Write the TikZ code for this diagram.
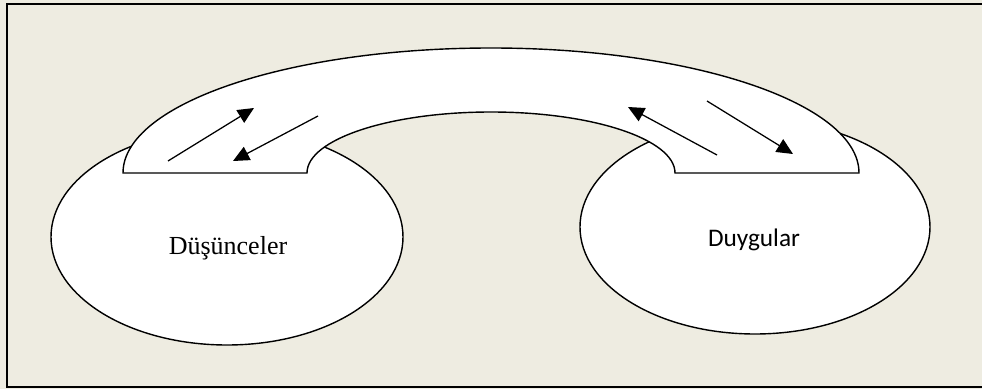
\documentclass[tikz,border=0pt]{standalone}
\usepackage{fontspec}
\setmainfont{Liberation Serif}
\newfontfamily\calibri{Carlito}
\usetikzlibrary{arrows.meta}
\definecolor{zemin}{RGB}{238,236,225}

\begin{document}
\begin{tikzpicture}[x=0.025cm, y=0.025cm, line width=1pt,
    ok/.style={-{Triangle[length=11.5pt, width=10.5pt]}, line width=0.9pt}]
        % Zemin ve çerçeve
        \useasboundingbox (0,0) rectangle (982,389);
        \fill[zemin] (0,0) rectangle (982,389);
        \clip (0,0) rectangle (982,389);
        \draw[line width=2pt] (7,2) rectangle (1000,385);

        % Elipsler
        \draw[fill=white] (227,152) ellipse [x radius=176, y radius=108];
        \draw[fill=white] (755,162) ellipse [x radius=175, y radius=107];

        % Köprü
        \draw[fill=white] (123,216) arc[start angle=180, end angle=0, x radius=368, y radius=125]
            -- (675,216) arc[start angle=0, end angle=180, x radius=184, y radius=61] -- cycle;

        % Oklar için noktalar
        \coordinate (A1) at (168,228);
        \coordinate (B1) at (254,281);
        \coordinate (A2) at (318,273);
        \coordinate (B2) at (233,228);
        \coordinate (A3) at (717,234);
        \coordinate (B3) at (628,282);
        \coordinate (A4) at (707,288);
        \coordinate (B4) at (793,235);

        % Oklar
        \draw[ok] (A1) -- (B1);
        \draw[ok] (A2) -- (B2);
        \draw[ok] (A3) -- (B3);
        \draw[ok] (A4) -- (B4);

        % Yazılar
        \node[anchor=base, font=\fontsize{18.5}{22}\selectfont] (dus) at (228,134) {Düşünceler};
        \node[anchor=base, font=\calibri\fontsize{18}{22}\selectfont] (duy) at (754,142) {Duygular};
    \end{tikzpicture}
\end{document}
